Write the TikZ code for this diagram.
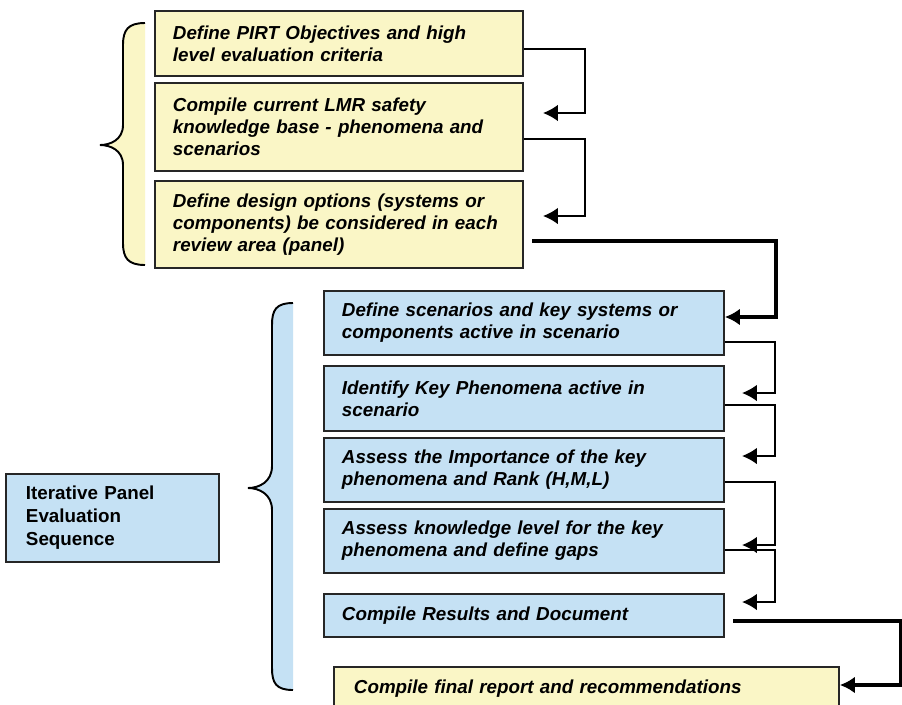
\documentclass[tikz,border=0pt]{standalone}
\usepackage{fontspec}
\setmainfont{Liberation Sans}
\usetikzlibrary{arrows.meta}

\definecolor{amarelo}{RGB}{250,246,198}
\definecolor{azul}{RGB}{197,225,244}

\begin{document}
\begin{tikzpicture}[x=0.02cm, y=-0.02cm,
	stepbox/.style={rectangle, draw=black!85, line width=1.1pt, anchor=north west,
		align=left, inner xsep=0.36cm, font=\fontsize{10.7}{12.5}\selectfont\bfseries\itshape},
	yellowbox/.style={stepbox, fill=amarelo, minimum width=7.36cm, text width=6.64cm},
	bluebox/.style={stepbox, fill=azul, minimum width=8cm, text width=7.28cm},
	link/.style={line width=1.1pt, -{Latex[length=8.5pt,width=9.5pt]}},
	biglink/.style={line width=2pt, -{Latex[length=8.5pt,width=9.5pt]}}]

\useasboundingbox (0,0) rectangle (902,704);
\clip (0,0) rectangle (902,704);
\fill[white] (0,0) rectangle (902,704);

% Chaves
\fill[amarelo] (145,23) .. controls (128,23) and (123,30) .. (123,45) -- (123,125)
	.. controls (123,140) and (110,145) .. (100,145)
	.. controls (110,145) and (123,150) .. (123,165) -- (123,243)
	.. controls (123,258) and (128,265) .. (145,265) -- cycle;
\draw[line width=1.1pt] (145,23) .. controls (128,23) and (123,30) .. (123,45) -- (123,125)
	.. controls (123,140) and (110,145) .. (100,145)
	.. controls (110,145) and (123,150) .. (123,165) -- (123,243)
	.. controls (123,258) and (128,265) .. (145,265);

\fill[azul] (293,303) .. controls (276,303) and (272,310) .. (272,325) -- (272,466)
	.. controls (272,482) and (259,488) .. (248,488)
	.. controls (259,488) and (272,494) .. (272,510) -- (272,668)
	.. controls (272,683) and (276,690) .. (293,690) -- cycle;
\draw[line width=1.1pt] (293,303) .. controls (276,303) and (272,310) .. (272,325) -- (272,466)
	.. controls (272,482) and (259,488) .. (248,488)
	.. controls (259,488) and (272,494) .. (272,510) -- (272,668)
	.. controls (272,683) and (276,690) .. (293,690);

% Caixas amarelas
\node[yellowbox, minimum height=1.3cm] (y1) at (154,10)
	{Define PIRT Objectives and high\\level evaluation criteria};
\node[yellowbox, minimum height=1.76cm] (y2) at (154,82)
	{Compile current LMR safety\\knowledge base - phenomena and\\scenarios};
\node[yellowbox, minimum height=1.74cm] (y3) at (154,180)
	{Define design options (systems or\\components) be considered in each\\review area (panel)};

% Caixas azuis
\node[bluebox, minimum height=1.28cm] (b1) at (323,290)
	{Define scenarios and key systems or\\components active in scenario};
\node[bluebox, minimum height=1.3cm] (b2) at (323,365)
	{Identify Key Phenomena active in\\scenario};
\node[bluebox, minimum height=1.28cm] (b3) at (323,437)
	{Assess the Importance of the key\\phenomena and Rank (H,M,L)};
\node[bluebox, minimum height=1.28cm] (b4) at (323,508)
	{Assess knowledge level for the key\\phenomena and define gaps};
\node[bluebox, minimum height=0.86cm] (b5) at (323,593)
	{Compile Results and Document};

\node[stepbox, fill=amarelo, minimum width=10.1cm, text width=9.3cm, minimum height=0.88cm] (final) at (333,666)
	{Compile final report and recommendations};

\node[stepbox, fill=azul, font=\fontsize{10.7}{13}\selectfont\bfseries, inner xsep=0.4cm,
	minimum width=4.26cm, text width=3.46cm, minimum height=1.76cm] (seq) at (5,473)
	{Iterative Panel\\Evaluation\\Sequence};

% Ligacoes
\coordinate (t1) at (543,113);
\coordinate (t2) at (543,216);
\draw[link] (y1.east |- 0,49) -- (585,49) |- (t1);
\draw[link] (y2.east |- 0,139) -- (585,139) |- (t2);

\coordinate (s3) at (532,241);
\draw[biglink] (s3) -- (776,241) |- (b1.east |- 0,317);

\foreach \n/\ys/\yt in {b1/342/393, b2/405/456, b3/482/545, b4/550/602} {
	\coordinate (tip-\n) at (742,\yt);
	\draw[link] (\n.east |- 0,\ys) -- (775,\ys) |- (tip-\n);
}

\coordinate (s5) at (733,621);
\draw[biglink] (s5) -- (901,621) |- (final.east |- 0,685);

\end{tikzpicture}
\end{document}
